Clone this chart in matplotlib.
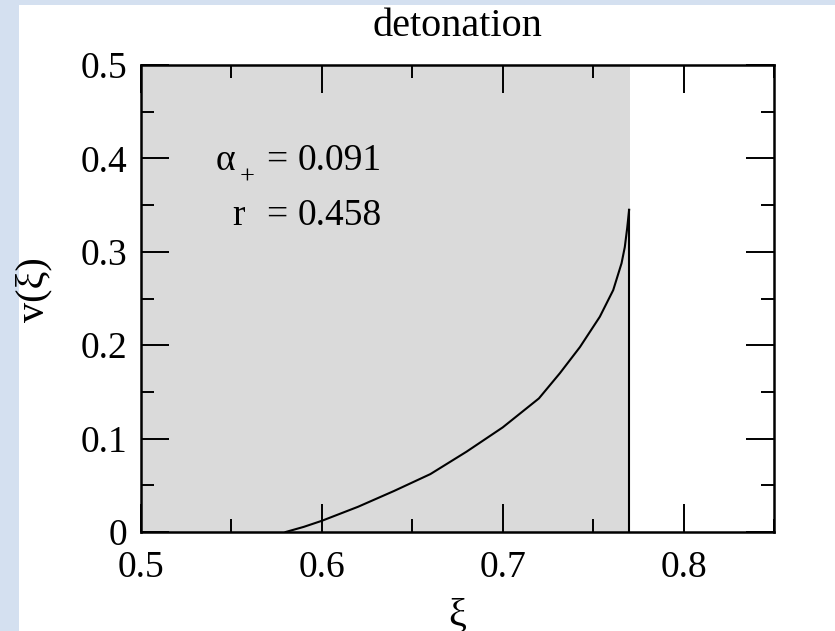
import matplotlib.pyplot as plt
from matplotlib.patches import Rectangle

# v(xi) profile (detonation case)
xi = [0.580, 0.590, 0.600, 0.620, 0.640, 0.660, 0.680, 0.700, 0.720,
      0.7316, 0.7427, 0.7537, 0.7611, 0.7657, 0.7675, 0.7688, 0.7699]
v = [0.000, 0.0055, 0.012, 0.027, 0.044, 0.062, 0.086, 0.112, 0.143,
     0.170, 0.198, 0.2305, 0.259, 0.2877, 0.305, 0.325, 0.345]
xi_wall = 0.7702  # end of the shaded region / shock front
alpha_plus = 0.091
r_val = 0.458

plt.rcParams['font.family'] = ['Liberation Serif', 'DejaVu Serif']

fig = plt.figure(figsize=(8.35, 6.31), dpi=100)
fig.patch.set_facecolor('#d4e0f0')
# white slide panel behind everything
panel = Rectangle((19 / 835, 0), 1, 1 - 5 / 631, transform=fig.transFigure,
                  facecolor='white', edgecolor='none', zorder=-10)
fig.add_artist(panel)

ax = fig.add_axes([141 / 835, 1 - 532 / 631, 633 / 835, 467 / 631])
ax.set_zorder(1)
ax.axvspan(0.5, xi_wall, color='#dadada', lw=0, zorder=0)
ax.plot(xi, v, color='black', lw=1.5)
ax.plot([xi[-1], xi[-1]], [0, v[-1]], color='black', lw=1.5)

ax.set_xlim(0.5, 0.85)
ax.set_ylim(0, 0.5)
ax.set_xticks([0.5, 0.6, 0.7, 0.8])
ax.set_xticklabels(['0.5', '0.6', '0.7', '0.8'])
ax.set_xticks([0.55, 0.65, 0.75, 0.85], minor=True)
ax.set_yticks([0, 0.1, 0.2, 0.3, 0.4, 0.5])
ax.set_yticklabels(['0', '0.1', '0.2', '0.3', '0.4', '0.5'])
ax.set_yticks([0.05, 0.15, 0.25, 0.35, 0.45], minor=True)
ax.tick_params(which='both', direction='in', top=True, right=True, width=1.4,
               labelsize=27)
ax.tick_params(axis='x', pad=13)
ax.tick_params(axis='y', pad=10)
ax.tick_params(which='major', length=20)
ax.tick_params(which='minor', length=9.5)
for s in ax.spines.values():
    s.set_linewidth(1.8)

ax.set_xlabel('ξ', fontsize=29)
ax.xaxis.set_label_coords(0.5, -0.14)
ax.set_ylabel('v(ξ)', fontsize=29)
ax.yaxis.set_label_coords(-0.14, 0.52)

fig.text((141 + 774) / 2 / 835, 1 - 27 / 631, 'detonation', ha='center', va='center',
         fontsize=29)

ax.text(0.541, 0.398, 'α', fontsize=27, va='center', ha='left')
ax.text(0.5586, 0.380, '+', fontsize=19, va='center', ha='center')
ax.text(0.569, 0.398, '=', fontsize=27, va='center', ha='left')
ax.text(0.5868, 0.398, '%.3f' % alpha_plus, fontsize=27, va='center', ha='left')
ax.text(0.5503, 0.339, 'r', fontsize=27, va='center', ha='left')
ax.text(0.569, 0.339, '=', fontsize=27, va='center', ha='left')
ax.text(0.5868, 0.339, '%.3f' % r_val, fontsize=27, va='center', ha='left')

fig.savefig('out.png', dpi=100, facecolor=fig.get_facecolor())
